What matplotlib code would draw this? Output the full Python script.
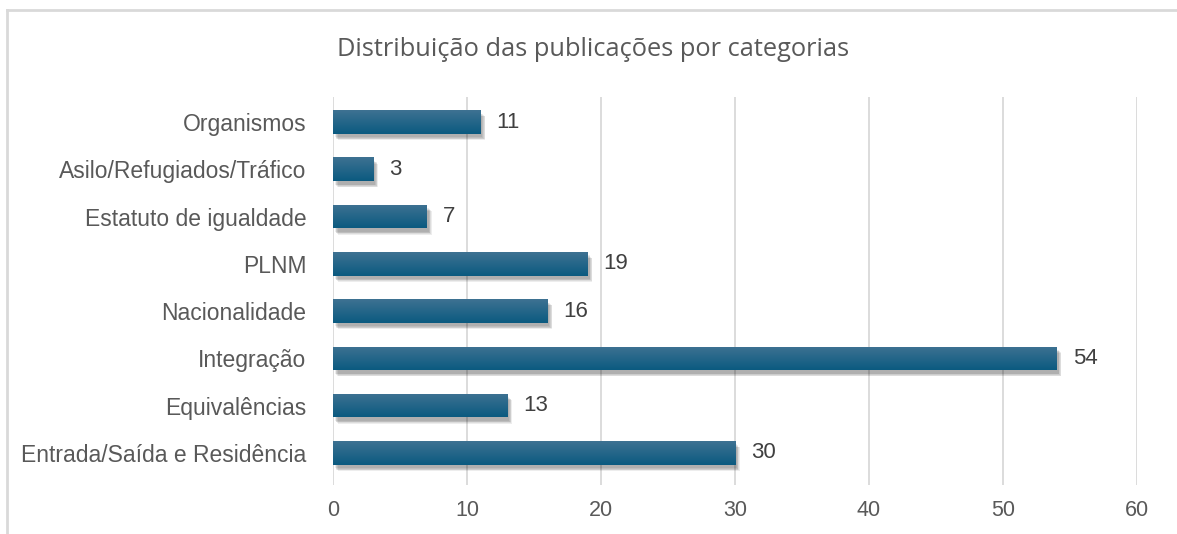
import numpy as np
import matplotlib
matplotlib.use("Agg")
import matplotlib.pyplot as plt
import matplotlib.patheffects as pe
from matplotlib.colors import LinearSegmentedColormap

categories = ["Entrada/Saída e Residência", "Equivalências", "Integração", "Nacionalidade",
              "PLNM", "Estatuto de igualdade", "Asilo/Refugiados/Tráfico", "Organismos"]
values = [30, 13, 54, 16, 19, 7, 3, 11]
xticks = [0, 10, 20, 30, 40, 50, 60]
title = "Distribuição das publicações por categorias"

fig = plt.figure(figsize=(11.77, 5.34), dpi=100)
ax = fig.add_axes([0.2829, 0.0918, 0.966 - 0.2829, 0.8184 - 0.0918])

# figure border (top and left visible)
fig.add_artist(plt.Line2D([6.5 / 1177, 6.5 / 1177], [0, 1 - 9.5 / 534], color="#d9d9d9", lw=2))
fig.add_artist(plt.Line2D([6.5 / 1177, 1], [1 - 9.5 / 534, 1 - 9.5 / 534], color="#d9d9d9", lw=2))

y = np.arange(len(categories))
shadow = [pe.SimplePatchShadow(offset=(o, -o - 1), shadow_rgbFace="#000000", alpha=0.07)
          for o in (3.5, 3, 2.5, 2, 1.5)]
bars = ax.barh(y, values, height=0.5, color="#1d6185", zorder=3,
               path_effects=shadow + [pe.Normal()])

# light at top, dark at bottom
cmap = LinearSegmentedColormap.from_list("g", ["#0b5a80", "#3e7292"])
grad = np.linspace(0, 1, 64).reshape(-1, 1)
for b in bars:
    x0, y0, w, h = b.get_x(), b.get_y(), b.get_width(), b.get_height()
    im = ax.imshow(grad, cmap=cmap, aspect="auto", extent=[x0, x0 + w, y0, y0 + h],
                   origin="lower", zorder=4)
    im.set_clip_path(b)
    ax.text(x0 + w + 1.2, y0 + h / 2, str(int(w)), va="center", ha="left",
            fontsize=16, color="#404040", family="Liberation Sans")

ax.set_xlim(0, 60)
ax.set_ylim(-0.68, 7.53)
ax.set_xticks(xticks)
ax.set_xticklabels([str(t) for t in xticks], fontsize=15.5, color="#595959", family="Liberation Sans")
ax.set_yticks(y)
ax.set_yticklabels(categories, fontsize=16.5, color="#595959", family="Liberation Sans")
ax.tick_params(axis="both", length=0)
ax.tick_params(axis="x", pad=11)
ax.tick_params(axis="y", pad=19)
ax.grid(axis="x", color="#d9d9d9", lw=1.3, zorder=0)
for s in ax.spines.values():
    s.set_visible(False)

fig.text(593 / 1177, 1 - 50 / 534, title, ha="center", va="center", fontsize=18.3,
         color="#595959", family="Open Sans")

fig.savefig("out.png", dpi=100)
